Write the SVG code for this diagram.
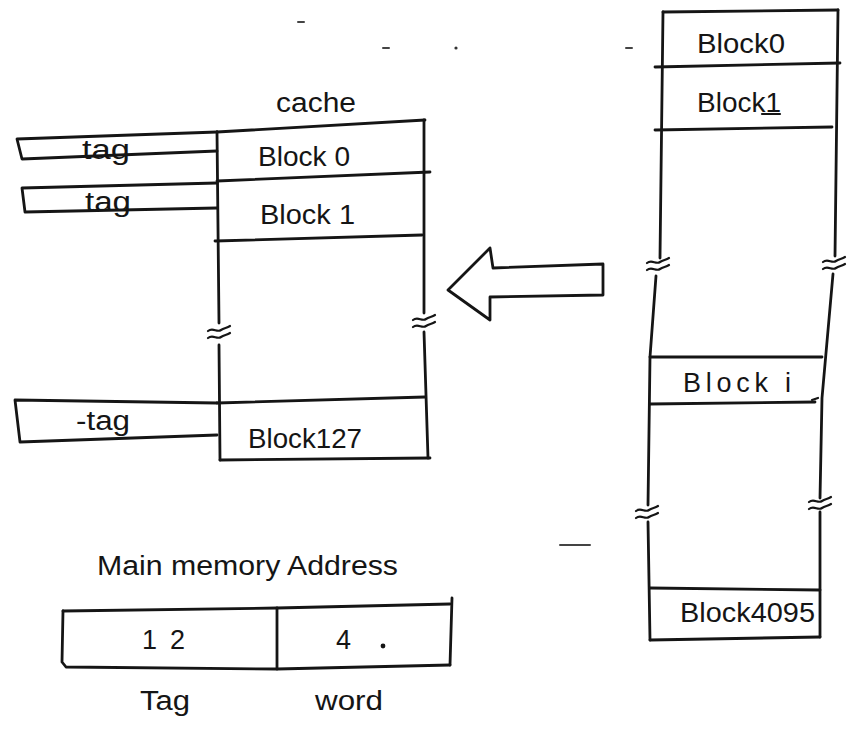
<svg xmlns="http://www.w3.org/2000/svg" width="850" height="743" viewBox="0 0 850 743">
  <style>
    .ink { fill: none; stroke: #151515; stroke-width: 2.8; stroke-linecap: round; stroke-linejoin: round; }
    .thin { fill: none; stroke: #151515; stroke-width: 2.2; stroke-linecap: round; }
    .faint { fill: none; stroke: #444; stroke-width: 2; stroke-linecap: round; }
    .lbl { font-family: "Liberation Sans", "DejaVu Sans", sans-serif; fill: #151515; font-size: 27px; }
  </style>
  <defs>
    <!-- double wavy break mark across a vertical edge -->
    <g id="brk">
      <path class="thin" d="M-11,-3 C-6,-7 -2,-1 2,-4 C5,-6 8,-6 11,-8"/>
      <path class="thin" d="M-11,4 C-6,0 -2,6 2,3 C5,1 8,1 11,-1"/>
    </g>
  </defs>
  <rect width="850" height="743" fill="#ffffff"/>

  <!-- cache -->
  <g id="cache">
    <path class="ink" d="M217,132 L425,120"/>
    <path class="ink" d="M217,181 L430,172"/>
    <path class="ink" d="M215,241 L422,235"/>
    <path class="ink" d="M217,403 L425,397"/>
    <path class="ink" d="M220,460 L430,458"/>
    <path class="ink" d="M217,132 L219,323"/>
    <path class="ink" d="M219,345 L220,460"/>
    <path class="ink" d="M424,120 L424,313"/>
    <path class="ink" d="M424,332 L428,458"/>
    <use href="#brk" x="219" y="334"/>
    <use href="#brk" x="424" y="323"/>
    <text class="lbl" x="276" y="112" font-size="30" textLength="80" lengthAdjust="spacingAndGlyphs">cache</text>
    <text class="lbl" x="258" y="166" textLength="92" lengthAdjust="spacingAndGlyphs">Block 0</text>
    <text class="lbl" x="260" y="224" textLength="95" lengthAdjust="spacingAndGlyphs">Block 1</text>
    <text class="lbl" x="248" y="448" textLength="114" lengthAdjust="spacingAndGlyphs">Block127</text>
  </g>

  <!-- tag registers -->
  <g id="tag0">
    <path class="ink" d="M217,132 L17,139 L22,159 L217,151"/>
    <text class="lbl" x="82" y="159" font-size="29" textLength="48" lengthAdjust="spacingAndGlyphs">tag</text>
  </g>
  <g id="tag1">
    <path class="ink" d="M217,183 L22,188 L25,212 L217,208"/>
    <text class="lbl" x="85" y="211" font-size="29" textLength="46" lengthAdjust="spacingAndGlyphs">tag</text>
  </g>
  <g id="tag127">
    <path class="ink" d="M217,403 L15,400 L20,442 L217,435"/>
    <text class="lbl" x="76" y="430" font-size="29" textLength="54" lengthAdjust="spacingAndGlyphs">-tag</text>
  </g>

  <!-- mapping arrow -->
  <g id="connectors">
    <path class="ink" d="M490,248 L448,290 L490,320 L490,297 L603,295 L603,264 L493,268 Z"/>
  </g>

  <!-- main memory -->
  <g id="main-memory">
    <path class="ink" d="M663,12 L838,10"/>
    <path class="ink" d="M655,67 L840,63"/>
    <path class="ink" d="M655,130 L832,127"/>
    <path class="ink" d="M650,357 L822,357"/>
    <path class="ink" d="M650,404 L815,402"/>
    <path class="ink" d="M650,588 L820,590"/>
    <path class="ink" d="M650,640 L820,637"/>
    <path class="ink" d="M663,12 L660,258"/>
    <path class="ink" d="M656,276 L650,357 L648,505"/>
    <path class="ink" d="M648,522 L650,640"/>
    <path class="ink" d="M838,10 L835,256"/>
    <path class="ink" d="M833,274 L822,398 L820,498"/>
    <path class="ink" d="M820,512 L820,637"/>
    <use href="#brk" x="658" y="266"/>
    <use href="#brk" x="834" y="265"/>
    <use href="#brk" x="647" y="514"/>
    <use href="#brk" x="820" y="505"/>
    <path class="thin" d="M812,400 L818,398"/>
    <text class="lbl" x="697" y="53" textLength="88" lengthAdjust="spacingAndGlyphs">Block0</text>
    <text class="lbl" x="697" y="112" textLength="84" lengthAdjust="spacingAndGlyphs">Block1</text>
    <path class="thin" d="M762,114 L780,114"/>
    <text class="lbl" x="683" y="392" font-size="28" textLength="108" lengthAdjust="spacing">Block i</text>
    <text class="lbl" x="680" y="622" textLength="135" lengthAdjust="spacingAndGlyphs">Block4095</text>
  </g>

  <!-- main memory address format -->
  <g id="address">
    <text class="lbl" x="97" y="575" font-size="30" textLength="301" lengthAdjust="spacingAndGlyphs">Main memory Address</text>
    <path class="ink" d="M63,611 L277,608 L450,604"/>
    <path class="ink" d="M452,598 L450,665"/>
    <path class="ink" d="M63,611 L62,662 L66,667 L277,669 L450,665"/>
    <path class="ink" d="M277,608 L277,669"/>
    <text class="lbl" x="142" y="649" font-size="27" textLength="43" lengthAdjust="spacing">12</text>
    <text class="lbl" x="336" y="649" font-size="26">4</text>
    <circle cx="383" cy="646" r="2.4" fill="#151515"/>
    <text class="lbl" x="140" y="710" font-size="30" textLength="50" lengthAdjust="spacingAndGlyphs">Tag</text>
    <text class="lbl" x="315" y="710" font-size="28" textLength="68" lengthAdjust="spacingAndGlyphs">word</text>
  </g>

  <!-- stray pen marks -->
  <g id="marks">
    <path class="faint" d="M560,545 L590,545"/>
    <path class="faint" d="M298,22 L304,22"/>
    <path class="faint" d="M383,48 L389,48"/>
    <path class="faint" d="M626,48 L632,48"/>
    <circle cx="456" cy="48" r="1.6" fill="#333"/>
  </g>
</svg>
